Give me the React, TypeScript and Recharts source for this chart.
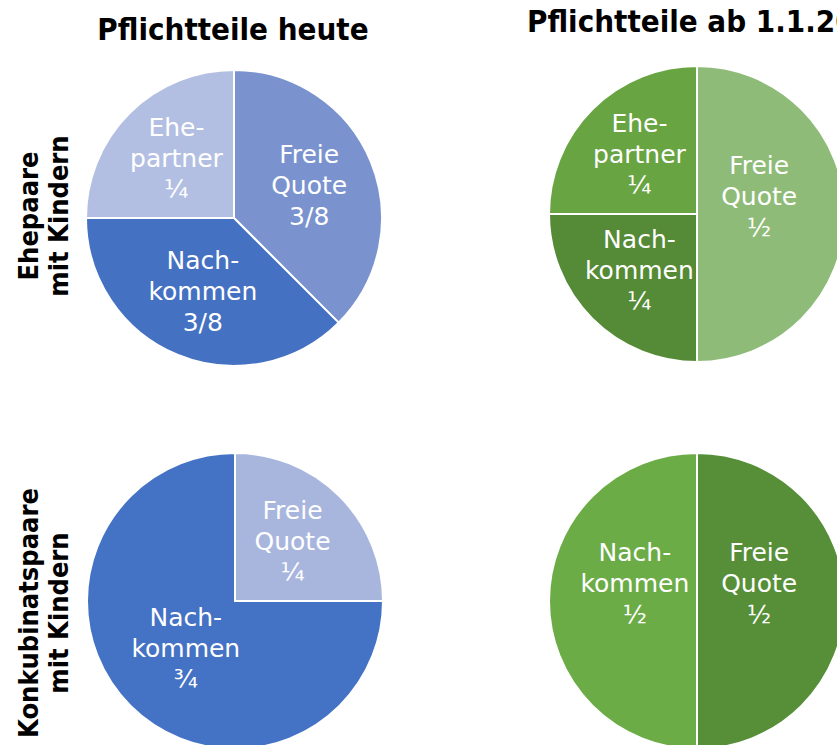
import { PieChart, Pie, Cell } from 'recharts';

// Pflichtteile heute – Ehepaare mit Kindern
const heuteEhepaare = [
  { name: 'Freie Quote', lines: ['Freie', 'Quote'], value: 3 / 8, fraction: '3/8' },
  { name: 'Nachkommen', lines: ['Nach-', 'kommen'], value: 3 / 8, fraction: '3/8' },
  { name: 'Ehepartner', lines: ['Ehe-', 'partner'], value: 1 / 4, fraction: '¼' },
];

// Pflichtteile ab 1.1.2023 – Ehepaare mit Kindern
const neuEhepaare = [
  { name: 'Freie Quote', lines: ['Freie', 'Quote'], value: 1 / 2, fraction: '½' },
  { name: 'Nachkommen', lines: ['Nach-', 'kommen'], value: 1 / 4, fraction: '¼' },
  { name: 'Ehepartner', lines: ['Ehe-', 'partner'], value: 1 / 4, fraction: '¼' },
];

// Pflichtteile heute – Konkubinatspaare mit Kindern
const heuteKonkubinat = [
  { name: 'Freie Quote', lines: ['Freie', 'Quote'], value: 1 / 4, fraction: '¼' },
  { name: 'Nachkommen', lines: ['Nach-', 'kommen'], value: 3 / 4, fraction: '¾' },
];

// Pflichtteile ab 1.1.2023 – Konkubinatspaare mit Kindern
const neuKonkubinat = [
  { name: 'Freie Quote', lines: ['Freie', 'Quote'], value: 1 / 2, fraction: '½' },
  { name: 'Nachkommen', lines: ['Nach-', 'kommen'], value: 1 / 2, fraction: '½' },
];

const columnTitles = ['Pflichtteile heute', 'Pflichtteile ab 1.1.2023'];
const rowTitles = [
  ['Ehepaare', 'mit Kindern'],
  ['Konkubinatspaare', 'mit Kindern'],
];

const COLORS_HEUTE_EHE = ['#7a93cf', '#4571c2', '#b3bfe2'];
const COLORS_NEU_EHE = ['#8fbb78', '#558a36', '#69a443'];
const COLORS_HEUTE_KONK = ['#a8b6de', '#4472c4'];
const COLORS_NEU_KONK = ['#578f38', '#6cac47'];

const RADIAN = Math.PI / 180;
const FONT = '"DejaVu Sans", Verdana, sans-serif';
const TITLE_FONT = '"DejaVu Sans Condensed", "DejaVu Sans", sans-serif';

function SliceLabel(props: any) {
  const { cx, cy, midAngle, outerRadius, percent, payload } = props;
  const half = Math.abs(percent - 0.5) < 0.001;
  const factor = half ? 0.42 : percent > 0.5 ? 0.47 : 0.55;
  const r = outerRadius * factor;
  const x = cx + r * Math.cos(-midAngle * RADIAN);
  const y = cy + r * Math.sin(-midAngle * RADIAN) - (half ? 18 : 2);
  const rows = [...payload.lines, payload.fraction];
  return (
    <text
      x={x}
      y={y}
      fill="#fff"
      textAnchor="middle"
      fontFamily={FONT}
      fontSize={25}
    >
      {rows.map((t: string, i: number) => (
        <tspan key={i} x={x} y={y + 9 + (i - 1) * 31}>
          {t}
        </tspan>
      ))}
    </text>
  );
}

export default function App() {
  const pies = [
    { data: heuteEhepaare, colors: COLORS_HEUTE_EHE, cx: 234, cy: 218 },
    { data: neuEhepaare, colors: COLORS_NEU_EHE, cx: 697, cy: 214 },
    { data: heuteKonkubinat, colors: COLORS_HEUTE_KONK, cx: 235, cy: 601 },
    { data: neuKonkubinat, colors: COLORS_NEU_KONK, cx: 697, cy: 601 },
  ];

  return (
    <div style={{ position: 'absolute', left: 0, top: 0, width: 837, height: 745, overflow: 'hidden', background: '#fff' }}>
      <PieChart width={837} height={745} margin={{ top: 0, right: 0, bottom: 0, left: 0 }}>
        {pies.map((p, k) => (
          <Pie
            key={k}
            data={p.data}
            dataKey="value"
            nameKey="name"
            cx={p.cx}
            cy={p.cy}
            outerRadius={148}
            startAngle={90}
            endAngle={-270}
            stroke="#fff"
            strokeWidth={2}
            label={SliceLabel}
            labelLine={false}
            isAnimationActive={false}
          >
            {p.data.map((d, i) => (
              <Cell key={d.name} fill={p.colors[i]} />
            ))}
          </Pie>
        ))}
      </PieChart>

      {/* Titel und Zeilenbeschriftungen */}
      <svg width={837} height={745} style={{ position: 'absolute', left: 0, top: 0, pointerEvents: 'none' }}>
        <text x={233} y={40} textAnchor="middle" fontFamily={TITLE_FONT} fontWeight="bold" fontSize={31} fill="#000">
          {columnTitles[0]}
        </text>
        <text x={527} y={32} textAnchor="start" fontFamily={TITLE_FONT} fontWeight="bold" fontSize={31} fill="#000">
          {columnTitles[1]}
        </text>
        {rowTitles.map((lines, r) => {
          const cy = r === 0 ? 216 : 613;
          return (
            <text
              key={r}
              transform={`translate(0, ${cy}) rotate(-90)`}
              textAnchor="middle"
              fontFamily={TITLE_FONT}
              fontWeight="bold"
              fontSize={27}
              fill="#000"
            >
              {lines.map((t, i) => (
                <tspan key={i} x={0} y={38 + i * 30}>
                  {t}
                </tspan>
              ))}
            </text>
          );
        })}
      </svg>
    </div>
  );
}
